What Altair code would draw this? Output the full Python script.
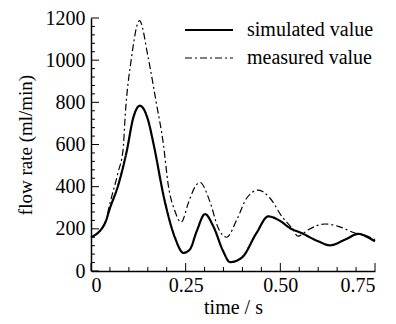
import altair as alt
import pandas as pd

sim_t = [0.0, 0.037, 0.050, 0.072, 0.094, 0.112, 0.129, 0.151, 0.165, 0.195, 0.222, 0.244,
         0.261, 0.279, 0.301, 0.323, 0.349, 0.367, 0.398, 0.437, 0.468, 0.499, 0.525,
         0.556, 0.600, 0.631, 0.671, 0.706, 0.737, 0.75]
sim_v = [160, 227, 298, 408, 565, 729, 784, 714, 604, 329, 157, 86,
         102, 188, 270, 212, 94, 42, 63, 180, 259, 238, 204,
         180, 141, 122, 149, 176, 154, 141]

mea_t = [0.0, 0.037, 0.050, 0.072, 0.085, 0.090, 0.107, 0.128, 0.151, 0.173, 0.191, 0.204,
         0.222, 0.238, 0.257, 0.275, 0.288, 0.314, 0.336, 0.358, 0.385, 0.411, 0.442,
         0.473, 0.504, 0.530, 0.547, 0.574, 0.618, 0.653, 0.697, 0.724, 0.75]
mea_v = [160, 227, 322, 471, 580, 729, 1012, 1188, 1012, 792, 604, 408,
         282, 231, 322, 400, 420, 329, 204, 160, 243, 345, 384,
         345, 259, 204, 165, 196, 223, 212, 180, 169, 149]

series = ["simulated value", "measured value"]
x_major = [0, 0.25, 0.5, 0.75]
x_minor = [0.05, 0.1, 0.15, 0.2, 0.3, 0.35, 0.4, 0.45, 0.55, 0.6, 0.65, 0.7]
y_major = [0, 200, 400, 600, 800, 1000, 1200]
y_minor = [v for v in range(40, 1200, 40) if v % 200 != 0]

df = pd.concat([
    pd.DataFrame({"t": sim_t, "v": sim_v, "s": series[0]}),
    pd.DataFrame({"t": mea_t, "v": mea_v, "s": series[1]}),
])

FONT = "Liberation Serif"
FS = 20
W, H = 284, 253
xs = alt.Scale(domain=[0, 0.75], nice=False, zero=False)
ys = alt.Scale(domain=[0, 1200], nice=False)

lines = alt.Chart(df).mark_line(interpolate="monotone", color="black").encode(
    x=alt.X("t:Q", scale=xs, title="time / s",
            axis=alt.Axis(values=x_major, ticks=False, domainColor="black", domainWidth=1.5,
                          labelFont=FONT, labelFontSize=FS, labelColor="black", labelPadding=4,
                          labelExpr="datum.value == 0 ? '0' : format(datum.value, '.2f')",
                          titleFont=FONT, titleFontSize=FS, titleFontWeight="normal",
                          titleColor="black", titlePadding=2, grid=False)),
    y=alt.Y("v:Q", scale=ys, title="flow rate (ml/min)",
            axis=alt.Axis(values=y_major, ticks=False, domainColor="black", domainWidth=1.5,
                          format="d",
                          labelFont=FONT, labelFontSize=FS, labelColor="black", labelPadding=6,
                          titleFont=FONT, titleFontSize=19, titleFontWeight="normal",
                          titleColor="black", titlePadding=10, grid=False)),
    strokeDash=alt.StrokeDash("s:N", scale=alt.Scale(domain=series, range=[[1, 0], [7, 3, 2, 3]]),
                              legend=alt.Legend(title=None, orient="none", legendX=108, legendY=2,
                                                symbolType="M-4,0H4", symbolSize=144,
                                                symbolStrokeColor="black", symbolStrokeWidth=1.6,
                                                labelFont=FONT, labelFontSize=FS, labelColor="black",
                                                labelOffset=28, rowPadding=8)),
    strokeWidth=alt.StrokeWidth("s:N", scale=alt.Scale(domain=series, range=[2.2, 1.2]), legend=None),
)

tx_major = pd.DataFrame({"t": x_major})
tx_minor = pd.DataFrame({"t": x_minor})
ty_major = pd.DataFrame({"v": y_major})
ty_minor = pd.DataFrame({"v": y_minor})

def xticks(d, size):
    return alt.Chart(d).mark_rule(color="black", strokeWidth=1).encode(
        x=alt.X("t:Q", scale=xs), y=alt.value(H), y2=alt.value(H - size))

def yticks(d, size):
    return alt.Chart(d).mark_rule(color="black", strokeWidth=1).encode(
        y=alt.Y("v:Q", scale=ys), x=alt.value(0), x2=alt.value(size))

chart = alt.layer(
    lines,
    xticks(tx_major, 8), xticks(tx_minor, 4),
    yticks(ty_major, 8), yticks(ty_minor, 4),
).properties(
    width=W, height=H,
    autosize=alt.AutoSizeParams(type="none"),
    padding={"left": 83, "top": 10, "right": 13, "bottom": 45},
).configure_view(stroke=None)

chart.save("out.html", embed_options={"renderer": "svg", "actions": False})
